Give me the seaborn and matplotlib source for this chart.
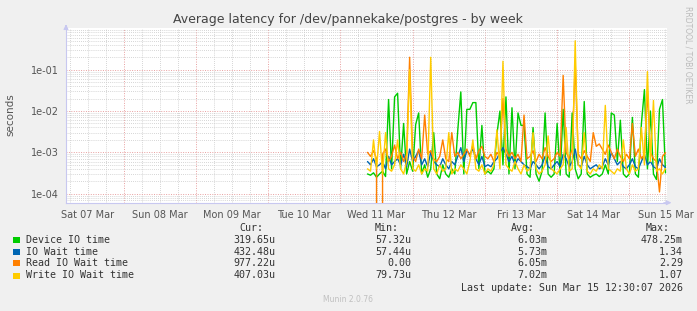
import numpy as np
import pandas as pd
import matplotlib
matplotlib.use("Agg")
import matplotlib.pyplot as plt
import matplotlib.dates as mdates
from matplotlib.patches import Rectangle
from matplotlib.ticker import FixedLocator, NullFormatter, FuncFormatter
import seaborn as sns

# ---------------- data ----------------
start_time = "2026-03-11 09:00"
series_names = ["Device IO time", "IO Wait time", "Read IO Wait time", "Write IO Wait time"]
series_colors = ["#00CC00", "#0066B3", "#FF8000", "#FFCC00"]

device_io = [3.0e-4, 2.8e-4, 3.2e-4, 2.5e-4, 3.0e-4, 3.5e-4, 2.6e-4, 1.9e-2, 4.0e-4, 2.2e-2,
             2.7e-2, 4.0e-4, 5.0e-3, 3.0e-4, 6.0e-4, 3.5e-4, 4.7e-3, 9.0e-3, 3.0e-4, 5.0e-4,
             2.5e-4, 4.0e-4, 3.0e-3, 3.0e-4, 2.3e-4, 5.0e-4, 3.0e-4, 2.5e-4, 4.0e-4, 3.0e-4,
             3.5e-3, 2.9e-2, 3.0e-4, 1.1e-2, 1.1e-2, 1.6e-2, 1.6e-2, 4.0e-4, 4.5e-3, 3.0e-4,
             3.5e-4, 3.0e-4, 4.0e-4, 2.8e-3, 1.0e-2, 5.0e-4, 2.2e-2, 3.0e-4, 1.2e-2, 4.0e-4,
             9.0e-3, 4.5e-3, 4.5e-3, 3.0e-4, 2.5e-4, 4.0e-3, 3.0e-4, 2.0e-4, 3.5e-4, 9.0e-3,
             3.0e-4, 2.5e-4, 3.0e-4, 5.0e-3, 2.8e-4, 1.1e-2, 3.0e-4, 2.5e-4, 9.0e-3, 4.0e-4,
             2.3e-4, 3.0e-4, 1.7e-2, 3.0e-4, 2.5e-4, 2.8e-4, 3.0e-4, 2.6e-4, 3.0e-4, 5.0e-4,
             3.0e-4, 9.0e-3, 8.0e-3, 6.0e-4, 6.0e-3, 3.0e-4, 2.5e-4, 3.0e-4, 7.0e-3, 3.0e-4,
             2.5e-4, 5.0e-3, 3.3e-2, 4.0e-4, 1.0e-2, 3.0e-4, 2.2e-4, 1.1e-2, 1.9e-2, 3.2e-4]

io_wait = [6e-4, 5e-4, 7e-4, 4.5e-4, 5e-4, 6e-4, 4e-4, 8e-4, 5e-4, 6e-4,
           7e-4, 5e-4, 9e-4, 4.5e-4, 1.2e-3, 6e-4, 8e-4, 1.1e-3, 5e-4, 7e-4,
           4.5e-4, 1.0e-3, 6e-4, 5e-4, 4.5e-4, 7e-4, 5e-4, 4e-4, 6e-4, 5e-4,
           8e-4, 1.3e-3, 6e-4, 1.1e-3, 9e-4, 1.2e-3, 7e-4, 5e-4, 8e-4, 4.5e-4,
           5e-4, 4.5e-4, 6e-4, 7e-4, 1.0e-3, 1.3e-3, 9e-4, 6e-4, 8e-4, 5e-4,
           7e-4, 6e-4, 5e-4, 4.5e-4, 4e-4, 6e-4, 5e-4, 4e-4, 5e-4, 8e-4,
           4.5e-4, 4e-4, 5e-4, 6e-4, 4.5e-4, 9e-4, 7e-4, 4.5e-4, 6e-4, 1.2e-3,
           5e-4, 4.5e-4, 8e-4, 5e-4, 4e-4, 4.5e-4, 5e-4, 4e-4, 4.5e-4, 7e-4,
           5e-4, 1.0e-3, 7e-4, 5e-4, 6e-4, 4.5e-4, 4e-4, 5e-4, 7e-4, 4.5e-4,
           4e-4, 6e-4, 9e-4, 5e-4, 6e-4, 4.5e-4, 4e-4, 7e-4, 5e-4, 4.3e-4]

read_io = [1.0e-3, 8e-4, 1.1e-3, 7e-4, 0.0, 9e-4, 1.2e-3, 6e-4, 8e-4, 1.5e-3,
           7e-4, 1.0e-3, 6e-4, 9e-4, 2.0e-1, 8e-4, 6e-4, 1.2e-3, 7e-4, 8.0e-3,
           9e-4, 1.1e-3, 7e-4, 6e-4, 8e-4, 2.0e-3, 7e-4, 6e-4, 3.0e-3, 8e-4,
           1.0e-3, 7e-4, 9e-4, 1.2e-3, 8e-4, 1.5e-3, 7e-4, 1.1e-3, 1.4e-3, 8e-4,
           7e-4, 9e-4, 6e-4, 1.0e-3, 8e-4, 2.0e-2, 1.2e-3, 8e-4, 1.0e-3, 7e-4,
           9e-4, 6e-4, 8.0e-3, 7e-4, 8e-4, 1.1e-3, 6e-4, 9e-4, 7e-4, 1.3e-3,
           8e-4, 6e-4, 7e-4, 1.0e-3, 8e-4, 7.3e-2, 1.0e-3, 7e-4, 1.2e-3, 1.5e-1,
           9e-4, 7e-4, 1.1e-3, 8e-4, 6e-4, 3.0e-3, 1.4e-3, 1.6e-3, 1.2e-3, 9e-4,
           1.5e-3, 1.0e-3, 7e-4, 1.2e-3, 8e-4, 6e-4, 9e-4, 7e-4, 5.0e-3, 8e-4,
           1.2e-3, 7e-4, 9e-4, 3.0e-2, 1.0e-3, 7e-4, 6e-4, 1.1e-4, 8e-4, 9.8e-4]

write_io = [4e-4, 3.5e-4, 2.0e-3, 4e-4, 3.2e-3, 3e-4, 3.0e-3, 4e-4, 3.5e-4, 5e-4,
            2.0e-3, 4e-4, 3e-4, 6e-4, 1.0e-1, 4e-4, 3.5e-4, 5e-4, 3e-4, 4e-4,
            3.5e-4, 2.0e-1, 4e-4, 3e-4, 5e-4, 3.5e-4, 4e-4, 3.0e-3, 3e-4, 4e-4,
            3.5e-4, 5e-4, 4e-4, 3e-4, 6e-4, 2.0e-3, 4e-4, 3.5e-4, 5e-4, 3e-4,
            4e-4, 3.5e-4, 5e-4, 3.5e-3, 4e-4, 1.6e-1, 5e-4, 4e-4, 3.5e-4, 6e-4,
            4e-4, 3e-4, 5e-4, 3.5e-4, 4e-4, 3.0e-3, 4e-4, 3e-4, 3.5e-4, 5e-4,
            2.5e-3, 4e-4, 3.5e-4, 3e-4, 4e-4, 5e-4, 4.0e-3, 3.5e-4, 4e-4, 5.0e-1,
            5e-4, 4e-4, 3.0e-3, 3.5e-4, 3e-4, 4e-4, 3.5e-4, 5e-4, 4e-4, 1.37e-2,
            4e-4, 3.5e-4, 3e-4, 4e-4, 3.5e-4, 2.0e-3, 4e-4, 3e-4, 5e-4, 3.5e-4,
            4e-4, 4.0e-3, 5e-4, 9.0e-2, 6e-4, 1.8e-2, 3.5e-4, 4e-4, 3e-4, 4.07e-4]

cur_vals = ["319.65u", "432.48u", "977.22u", "407.03u"]
min_vals = ["57.32u", "57.44u", "0.00", "79.73u"]
avg_vals = ["6.03m", "5.73m", "6.05m", "7.02m"]
max_vals = ["478.25m", "1.34", "2.29", "1.07"]

y_tick_vals = [1e-4, 1e-3, 1e-2, 1e-1]
y_tick_labels = ["1e-04", "1e-03", "1e-02", "1e-01"]

# ---------------- build frame ----------------
times = pd.date_range(start_time, periods=len(device_io), freq="h")
frames = []
for name, vals in zip(series_names, [device_io, io_wait, read_io, write_io]):
    frames.append(pd.DataFrame({"time": times, "value": vals, "series": name}))
df = pd.concat(frames, ignore_index=True)

# ---------------- figure ----------------
W, H = 697, 311
sns.set_style("white")
plt.rcParams["font.family"] = ["DejaVu Sans"]
fig = plt.figure(figsize=(W / 100, H / 100), dpi=100, facecolor="#F0F0F0")

def fx(px):
    return px / W

def fy(py):
    return 1 - py / H

left, right, top, bottom = 66, 667, 27.7, 202.7
ax = fig.add_axes([fx(left), fy(bottom), fx(right - left), (bottom - top) / H])
ax.set_facecolor("white")

sns.lineplot(data=df, x="time", y="value", hue="series", hue_order=series_names,
             palette=dict(zip(series_names, series_colors)), linewidth=1.0,
             estimator=None, legend=False, ax=ax, zorder=3)
ax.set_yscale("log", nonpositive="clip")
ax.set_ylim(6.05e-5, 1.04)
ax.set_xlim(pd.Timestamp("2026-03-07 04:50"), pd.Timestamp("2026-03-15 12:30"))

# y ticks / grid
ax.yaxis.set_major_locator(FixedLocator(y_tick_vals))
ax.set_yticklabels(y_tick_labels)
minor_y = [m * d for d in [1e-5, 1e-4, 1e-3, 1e-2, 1e-1] for m in range(2, 10)]
ax.yaxis.set_minor_locator(FixedLocator(minor_y))
ax.yaxis.set_minor_formatter(NullFormatter())

# x ticks / grid
ax.xaxis.set_major_locator(mdates.HourLocator(byhour=[0]))
ax.xaxis.set_major_formatter(NullFormatter())
ax.xaxis.set_minor_locator(mdates.HourLocator(byhour=[6, 12, 18]))

def minor_fmt(x, pos):
    d = mdates.num2date(x)
    return d.strftime("%a %d %b") if d.hour == 12 else ""

ax.xaxis.set_minor_formatter(FuncFormatter(minor_fmt))

ax.grid(which="major", color="#E8A0A0", linestyle=(0, (1, 1.5)), linewidth=0.7, zorder=1)
ax.grid(which="minor", color="#C8C8C8", linestyle=(0, (1, 1.5)), linewidth=0.6, zorder=1)

ax.tick_params(axis="both", which="both", length=2, color="#C8C8C8", labelsize=7,
               labelcolor="#555555", pad=3)
ax.tick_params(axis="x", which="major", length=2, color="#E8A0A0")
ax.set_xlabel("")
ax.set_ylabel("")
fig.text(fx(10), fy(115), "seconds", rotation=90, ha="center", va="center",
         fontsize=7.5, color="#555555")

for s in ["top", "right"]:
    ax.spines[s].set_visible(False)
for s in ["left", "bottom"]:
    ax.spines[s].set_color("#C8C8F0")
    ax.spines[s].set_linewidth(0.8)

# axis arrows
ax.annotate("", xy=(1.012, 0), xytext=(0.99, 0), xycoords="axes fraction",
            arrowprops=dict(arrowstyle="-|>", color="#C8C8F0", lw=0.8, mutation_scale=7),
            annotation_clip=False)
ax.annotate("", xy=(0, 1.035), xytext=(0, 0.99), xycoords="axes fraction",
            arrowprops=dict(arrowstyle="-|>", color="#C8C8F0", lw=0.8, mutation_scale=7),
            annotation_clip=False)

# title and side text
fig.text(fx(348), fy(19), "Average latency for /dev/pannekake/postgres - by week",
         ha="center", va="center", fontsize=9.0, color="#444444")
fig.text(fx(688), fy(6), "RRDTOOL / TOBI OETIKER", rotation=270, ha="center", va="top",
         fontsize=5.5, color="#BBBBBB")

# legend block
mono = "DejaVu Sans Mono"
fs = 7.2
tc = "#333333"
fig.text(fx(251.7), fy(227.7), "Cur:", ha="center", va="center", family=mono, fontsize=fs, color=tc)
fig.text(fx(386.7), fy(227.7), "Min:", ha="center", va="center", family=mono, fontsize=fs, color=tc)
fig.text(fx(522.7), fy(227.7), "Avg:", ha="center", va="center", family=mono, fontsize=fs, color=tc)
fig.text(fx(658), fy(227.7), "Max:", ha="center", va="center", family=mono, fontsize=fs, color=tc)

row_y = [240, 251.7, 263.3, 275.5]
for i, name in enumerate(series_names):
    yy = row_y[i]
    fig.patches.append(Rectangle((fx(13.5), fy(yy + 3)), 6 / W, 6 / H, transform=fig.transFigure,
                                 facecolor=series_colors[i], edgecolor="none"))
    fig.text(fx(26), fy(yy), name, ha="left", va="center", family=mono, fontsize=fs, color=tc)
    fig.text(fx(275.5), fy(yy), cur_vals[i], ha="right", va="center", family=mono, fontsize=fs, color=tc)
    fig.text(fx(411.7), fy(yy), min_vals[i], ha="right", va="center", family=mono, fontsize=fs, color=tc)
    fig.text(fx(547.3), fy(yy), avg_vals[i], ha="right", va="center", family=mono, fontsize=fs, color=tc)
    fig.text(fx(683), fy(yy), max_vals[i], ha="right", va="center", family=mono, fontsize=fs, color=tc)

fig.text(fx(683), fy(287.7), "Last update: Sun Mar 15 12:30:07 2026", ha="right", va="center",
         family=mono, fontsize=fs, color=tc)
fig.text(fx(348), fy(299.5), "Munin 2.0.76", ha="center", va="center", fontsize=5.5, color="#C0C0C0")

fig.savefig("out.png", dpi=100, facecolor=fig.get_facecolor())
